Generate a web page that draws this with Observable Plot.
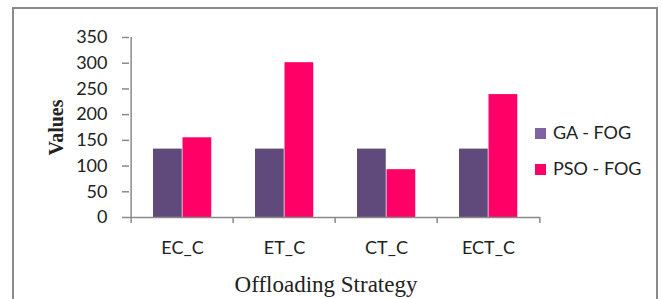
<!DOCTYPE html>
<html>
<head>
<meta charset="utf-8">
<script src="https://cdn.jsdelivr.net/npm/d3@7"></script>
<script src="https://cdn.jsdelivr.net/npm/@observablehq/plot@0.6"></script>
<style>
  html, body { margin: 0; padding: 0; background: #fff; }
  #wrap { position: relative; width: 662px; height: 299px; overflow: hidden; background: #fff; }
  #frame { position: absolute; left: 12px; top: 7px; width: 642px; height: 400px; border: 2px solid #8a8a8a; }
  #chart { position: absolute; left: 0; top: 0; }
  .legend { position: absolute; left: 535px; font-family: Lato, sans-serif; font-size: 18px; color: #222; line-height: 18px; white-space: nowrap; }
  .legend .sw { display: inline-block; width: 11px; height: 11px; margin-right: 7px; vertical-align: 0px; }
</style>
</head>
<body>
<div id="wrap">
  <div id="frame"></div>
  <div id="chart"></div>
</div>
<script>
const categories = ["EC_C", "ET_C", "CT_C", "ECT_C"];
const seriesNames = ["GA - FOG", "PSO - FOG"];
const gaValues = [133, 133, 133, 133];
const psoValues = [155, 301, 93, 239];
const yTicks = [0, 50, 100, 150, 200, 250, 300, 350];
const yLabel = "Values";
const xLabel = "Offloading Strategy";

const barColors = ["#604A7B", "#FF0066"];
const swatchColors = ["#8064A2", "#FF0066"];
const axisColor = "#8a8a8a";
const textColor = "#222";

const rows = [];
categories.forEach((c, i) => {
  rows.push({category: c, series: seriesNames[0], value: gaValues[i]});
  rows.push({category: c, series: seriesNames[1], value: psoValues[i]});
});
const gaRows = rows.filter(d => d.series === seriesNames[0]);
const psoRows = rows.filter(d => d.series === seriesNames[1]);

const W = 662, H = 299;
const mL = 129, mR = 122, mT = 37, mB = 82;
const step = (W - mL - mR) / categories.length;
const barW = 29.5, groupOff = 22;

const plot = Plot.plot({
  width: W, height: H,
  marginLeft: mL, marginRight: mR, marginTop: mT, marginBottom: mB,
  style: {fontFamily: "Lato, sans-serif", fontSize: "18px", color: textColor, background: "transparent", overflow: "visible"},
  x: {domain: categories, padding: 0, axis: null},
  y: {domain: [0, 350], axis: null},
  marks: [
    Plot.barY(gaRows, {x: "category", y: "value", fill: barColors[0], insetLeft: groupOff, insetRight: step - groupOff - barW}),
    Plot.barY(psoRows, {x: "category", y: "value", fill: barColors[1], insetLeft: groupOff + barW, insetRight: step - groupOff - 2 * barW}),
    Plot.ruleY([0], {stroke: axisColor, strokeWidth: 1.5}),
    Plot.ruleX([categories[0]], {dx: -step / 2, stroke: axisColor, strokeWidth: 1.5}),
    Plot.axisX(categories, {tickSize: 6, dx: -step / 2, tickFormat: () => "", stroke: axisColor, strokeWidth: 1.5, label: null}),
    Plot.axisX([categories[categories.length - 1]], {tickSize: 6, dx: step / 2, tickFormat: () => "", stroke: axisColor, strokeWidth: 1.5, label: null}),
    Plot.axisX(categories, {tickSize: 0, tickPadding: 23.5, fontSize: 18, fill: textColor, label: null}),
    Plot.axisY(yTicks, {tickSize: 7, tickPadding: 15, fontSize: 18, stroke: axisColor, strokeWidth: 1.5, fill: textColor, label: null}),
    Plot.text([yLabel], {frameAnchor: "left", dx: -73, rotate: -90, lineAnchor: "middle", textAnchor: "middle", fontFamily: "Liberation Serif, serif", fontWeight: "bold", fontSize: 20, fill: textColor}),
    Plot.text([xLabel], {frameAnchor: "bottom", dx: -9, dy: 67, lineAnchor: "middle", textAnchor: "middle", fontFamily: "Liberation Serif, serif", fontSize: 23, fill: textColor})
  ]
});
document.getElementById("chart").appendChild(plot);

const wrap = document.getElementById("wrap");
const legendTops = [123, 159];
seriesNames.forEach((name, i) => {
  const item = document.createElement("div");
  item.className = "legend";
  item.style.top = legendTops[i] + "px";
  const sw = document.createElement("span");
  sw.className = "sw";
  sw.style.background = swatchColors[i];
  item.appendChild(sw);
  item.appendChild(document.createTextNode(name));
  wrap.appendChild(item);
});
</script>
</body>
</html>
